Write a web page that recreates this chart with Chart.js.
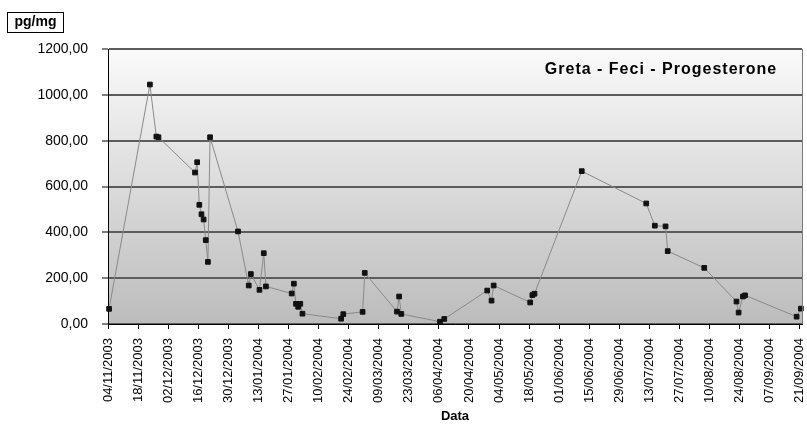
<!DOCTYPE html>
<html>
<head>
<meta charset="utf-8">
<script src="https://cdn.jsdelivr.net/npm/chart.js@4.4.0/dist/chart.umd.min.js"></script>
<style>
  html, body { margin: 0; padding: 0; background: #fff; }
  #wrap { width: 807px; height: 426px; position: relative; }
</style>
</head>
<body>
<div id="wrap"><canvas id="chart"></canvas></div>
<script>
// Greta - Feci - Progesterone, pg/mg per sample date
const sampleDates = [
  '04/11/2003', '23/11/2003', '26/11/2003', '27/11/2003', '14/12/2003', '15/12/2003',
  '16/12/2003', '17/12/2003', '18/12/2003', '19/12/2003', '20/12/2003', '21/12/2003',
  '03/01/2004', '08/01/2004', '09/01/2004', '13/01/2004', '15/01/2004', '16/01/2004',
  '28/01/2004', '29/01/2004', '30/01/2004', '31/01/2004', '01/02/2004', '02/02/2004',
  '20/02/2004', '21/02/2004', '01/03/2004', '02/03/2004', '17/03/2004', '18/03/2004',
  '19/03/2004', '06/04/2004', '08/04/2004', '28/04/2004', '30/04/2004', '01/05/2004',
  '18/05/2004', '19/05/2004', '20/05/2004', '11/06/2004', '11/07/2004', '15/07/2004',
  '20/07/2004', '21/07/2004', '07/08/2004', '22/08/2004', '23/08/2004', '25/08/2004',
  '26/08/2004', '19/09/2004', '21/09/2004'
];
const progesterone = [
  66, 1045, 818, 815, 661, 706,
  520, 479, 456, 366, 271, 815,
  404, 168, 218, 149, 309, 164,
  133, 176, 88, 75, 88, 45,
  23, 43, 53, 223, 54, 120,
  44, 10, 22, 146, 102, 168,
  94, 126, 132, 667, 526, 429,
  426, 318, 245, 98, 50, 120,
  125, 32, 67
];
const xTickLabels = [
  '04/11/2003', '18/11/2003', '02/12/2003', '16/12/2003', '30/12/2003', '13/01/2004',
  '27/01/2004', '10/02/2004', '24/02/2004', '09/03/2004', '23/03/2004', '06/04/2004',
  '20/04/2004', '04/05/2004', '18/05/2004', '01/06/2004', '15/06/2004', '29/06/2004',
  '13/07/2004', '27/07/2004', '10/08/2004', '24/08/2004', '07/09/2004', '21/09/2004'
];
const yTickLabels = ['0,00', '200,00', '400,00', '600,00', '800,00', '1000,00', '1200,00'];

function toUTC(s) {
  const p = s.split('/');
  return Date.UTC(+p[2], +p[1] - 1, +p[0]);
}
const startDay = toUTC(xTickLabels[0]);
function dayOf(s) { return Math.round((toUTC(s) - startDay) / 86400000); }

const xTicks = xTickLabels.map(dayOf);
const yTicks = yTickLabels.map(l => parseFloat(l.replace(',', '.')));
// excel puts each date in the middle of its day slot
const points = sampleDates.map((d, i) => ({ x: dayOf(d) + 0.5, y: progesterone[i] }));

const FONT = '"Liberation Sans", Arial, sans-serif';

const decor = {
  id: 'decor',
  beforeDraw(chart) {
    const a = chart.chartArea, ctx = chart.ctx;
    const g = ctx.createLinearGradient(0, a.top, 0, a.bottom);
    g.addColorStop(0, '#fafafa');
    g.addColorStop(1, '#bcbcbc');
    ctx.save();
    ctx.fillStyle = g;
    ctx.fillRect(a.left, a.top, a.right - a.left, a.bottom - a.top);
    ctx.restore();
  },
  afterDraw(chart) {
    const a = chart.chartArea, ctx = chart.ctx;
    ctx.save();
    // right edge of plot area
    ctx.strokeStyle = '#7a7a7a';
    ctx.lineWidth = 1;
    ctx.beginPath();
    ctx.moveTo(a.right + 0.5, a.top);
    ctx.lineTo(a.right + 0.5, a.bottom);
    ctx.stroke();

    // unit box
    ctx.fillStyle = '#fff';
    ctx.fillRect(7.5, 12.5, 56, 20);
    ctx.strokeStyle = '#000';
    ctx.strokeRect(7.5, 12.5, 56, 20);
    ctx.fillStyle = '#000';
    ctx.font = 'bold 14px ' + FONT;
    ctx.textAlign = 'center';
    ctx.textBaseline = 'middle';
    ctx.fillText('pg/mg', 35.5, 22.5);

    // chart title inside plot
    ctx.font = 'bold 16px ' + FONT;
    if ('letterSpacing' in ctx) ctx.letterSpacing = '1px';
    ctx.fillText('Greta - Feci - Progesterone', 661, 70);
    ctx.restore();
  }
};

new Chart(document.getElementById('chart'), {
  type: 'line',
  data: {
    datasets: [{
      label: 'Progesterone',
      data: points,
      borderColor: '#8a8a8a',
      borderWidth: 1,
      pointStyle: 'rect',
      pointRadius: 3.3,
      pointBorderWidth: 1,
      pointBackgroundColor: '#111',
      pointBorderColor: '#111',
      tension: 0,
      clip: false
    }]
  },
  options: {
    responsive: true,
    maintainAspectRatio: false,
    animation: false,
    layout: { padding: { top: 49, right: 2, left: 0, bottom: 0 } },
    plugins: {
      legend: { display: false },
      tooltip: { enabled: false },
      title: { display: false }
    },
    scales: {
      x: {
        type: 'linear',
        min: 0,
        max: xTicks[xTicks.length - 1] + 1,
        afterBuildTicks(scale) { scale.ticks = xTicks.map(v => ({ value: v })); },
        afterFit(scale) {
          scale.height = 102;
          scale.paddingLeft = 0;
          scale.paddingRight = 0;
        },
        grid: {
          drawOnChartArea: false,
          drawTicks: true,
          tickLength: 5,
          tickColor: '#000',
          tickWidth: 1
        },
        border: { color: '#000', width: 1 },
        ticks: {
          autoSkip: false,
          maxRotation: 90,
          minRotation: 90,
          padding: 9,
          color: '#000',
          font: { family: FONT, size: 13 },
          callback: (v, i) => xTickLabels[i]
        },
        title: {
          display: true,
          text: 'Data',
          color: '#000',
          font: { family: FONT, size: 13, weight: 'bold' },
          padding: { top: 0, bottom: 2 }
        }
      },
      y: {
        min: 0,
        max: 1200,
        afterBuildTicks(scale) { scale.ticks = yTicks.map(v => ({ value: v })); },
        afterFit(scale) { scale.width = 108; },
        grid: {
          color: '#5c5c5c',
          lineWidth: 2,
          drawTicks: true,
          tickLength: 6,
          tickColor: '#000',
          tickWidth: 1
        },
        border: { color: '#000', width: 1 },
        ticks: {
          padding: 14,
          color: '#000',
          font: { family: FONT, size: 14 },
          callback: (v, i) => yTickLabels[i]
        }
      }
    }
  },
  plugins: [decor]
});
</script>
</body>
</html>
